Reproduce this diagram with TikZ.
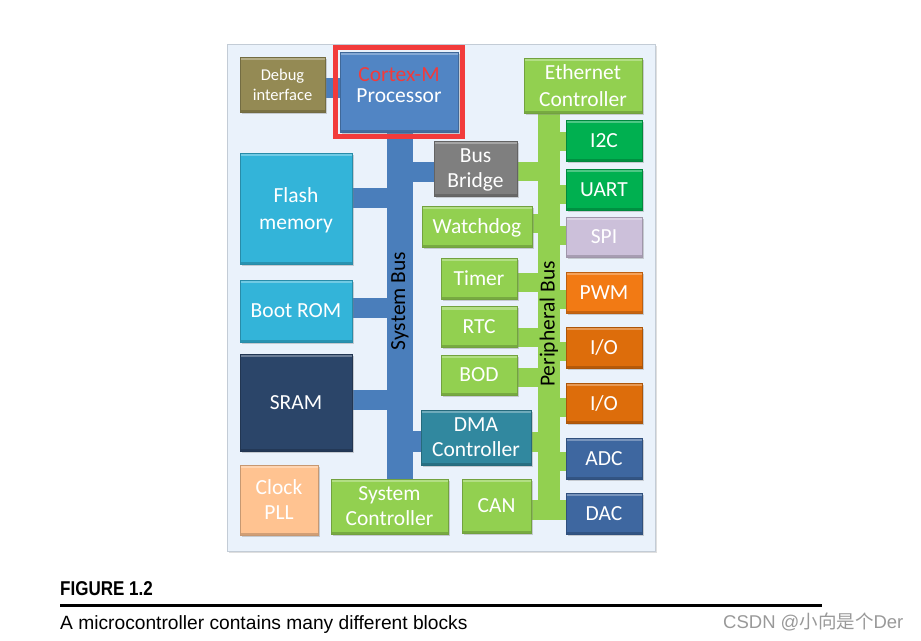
\documentclass[tikz,border=0pt]{standalone}
\usepackage{fontspec}
\usetikzlibrary{shadows,fit,backgrounds}

\newfontfamily\carlito{Carlito}
\newfontfamily\capsans{Liberation Sans}
\newfontface\figbold[FakeStretch=0.85]{Liberation Sans Bold}
\newfontfamily\cjk{Noto Sans CJK SC}
\newcommand\lblfont{\carlito\fontsize{21.5}{25}\selectfont}
\newcommand\tallfont{\carlito\fontsize{21.5}{26.5}\selectfont}
\newcommand\smlfont{\carlito\fontsize{16.5}{20}\selectfont}

\definecolor{cpanel}{HTML}{EAF2FB}
\definecolor{cpanelline}{HTML}{C3CCD6}
\definecolor{cdebug}{HTML}{948A54}
\definecolor{ccpu}{HTML}{5185C4}
\definecolor{csbus}{HTML}{4A7EBB}
\definecolor{cbridge}{HTML}{7F7F7F}
\definecolor{cflash}{HTML}{33B4D9}
\definecolor{csram}{HTML}{2B4569}
\definecolor{cdma}{HTML}{31889F}
\definecolor{clgreen}{HTML}{92D050}
\definecolor{cgreen}{HTML}{00B050}
\definecolor{cspi}{HTML}{CCC0DA}
\definecolor{cpwm}{HTML}{F27A14}
\definecolor{cio}{HTML}{DD6D0B}
\definecolor{cadc}{HTML}{3E67A0}
\definecolor{cclock}{HTML}{FFC391}
\definecolor{cortexred}{HTML}{F23B3B}

\begin{document}
\begin{tikzpicture}[x=1pt, y=-1pt,
    blk/.style={rectangle, fill=#1, draw=#1!78!black, line width=0.6pt,
        text=white, align=center, inner sep=0pt, font=\lblfont, text depth=0pt,
        drop shadow={shadow xshift=1.5pt, shadow yshift=-1.5pt, opacity=0.35},
        path picture={
            \fill[white, opacity=0.3] (path picture bounding box.north west)
                rectangle ([yshift=-3pt]path picture bounding box.north east);
            \fill[black, opacity=0.18] (path picture bounding box.south west)
                rectangle ([yshift=2.5pt]path picture bounding box.south east);
        }},
    sz/.style 2 args={minimum width=#1pt, minimum height=#2pt},
    sbar/.style={draw=csbus, line width=#1pt},
    sbar/.default=20,
    pbar/.style={draw=clgreen, line width=#1pt},
    pbar/.default=19,
    buslbl/.style={rotate=90, font=\lblfont, inner sep=0pt}
  ]
    \useasboundingbox (0,0) rectangle (921,640);

    % Board
    \begin{scope}[on background layer]
    \node [fill=cpanel, draw=cpanelline, line width=1pt, sz={428}{507},
           drop shadow={shadow xshift=1.5pt, shadow yshift=-1.5pt, opacity=0.25}]
                                        (panel)     at (441,297.5)  {};
    \end{scope}

    % Left column
    \node [blk=cdebug, sz={85}{55}, font=\smlfont] (debug) at (282.5,84.5) {Debug\\interface};
    \node [blk=cflash, sz={112}{111}, font=\tallfont] (flash) at (296,208.5) {Flash\\memory};
    \node [blk=cflash, sz={112}{62}]    (bootrom)   at (296,311)    {Boot ROM};
    \node [blk=csram, sz={112}{97}]     (sram)      at (296,402.5)  {SRAM};
    \node [blk=cclock, sz={78}{70}]     (clock)     at (279,500)    {Clock\\PLL};

    % Processor and system bus side
    \node [blk=ccpu, sz={118}{80}]      (cpu)       at (399,92)     {};
    \node [font=\carlito\fontsize{21.5}{21}\selectfont, text=white, align=center, inner sep=0pt]
                                        (cputext)   at (399,85.5)   {\textcolor{cortexred}{Cortex-M}\\Processor};
    \node [blk=cbridge, sz={83}{55}]    (bridge)    at (475.5,168.5) {Bus\\Bridge};
    \node [blk=cdma, sz={110}{55}]      (dma)       at (476,437.5)  {DMA\\Controller};
    \node [blk=clgreen, sz={117}{55}]   (sysctl)    at (389.5,506.5) {System\\Controller};
    \node [blk=clgreen, sz={69}{54}]    (can)       at (496.5,506)  {CAN};

    % Peripheral bus side
    \node [blk=clgreen, sz={118}{55}, font=\tallfont] (eth) at (583,85.5) {Ethernet\\Controller};
    \node [blk=clgreen, sz={110}{41}]   (watchdog)  at (477,226.5)  {Watchdog};
    \node [blk=clgreen, sz={76}{41}]    (timer)     at (479,278.5)  {Timer};
    \node [blk=clgreen, sz={76}{41}]    (rtc)       at (479,327)    {RTC};
    \node [blk=clgreen, sz={76}{40}]    (bod)       at (479,375)    {BOD};

    \node [blk=cgreen, sz={76}{41}]     (i2c)       at (604,140.5)  {I2C};
    \node [blk=cgreen, sz={76}{41}]     (uart)      at (604,189.5)  {UART};
    \node [blk=cspi, sz={76}{40}]       (spi)       at (604,237)    {SPI};
    \node [blk=cpwm, sz={76}{41}]       (pwm)       at (604,292.5)  {PWM};
    \node [blk=cio, sz={76}{41}]        (io1)       at (604,347.5)  {I/O};
    \node [blk=cio, sz={76}{40}]        (io2)       at (604,403)    {I/O};
    \node [blk=cadc, sz={76}{41}]       (adc)       at (604,458.5)  {ADC};
    \node [blk=cadc, sz={76}{41}]       (dac)       at (604,513.5)  {DAC};

    % Bus ends
    \coordinate (sbtop) at (400,132);
    \coordinate (sbbot) at (400,479);
    \coordinate (pbtop) at (549,112);
    \coordinate (pbbot) at (549,520);

    % Buses
    \begin{scope}[on background layer]
    \draw [sbar=26] (sbtop) -- (sbbot);
    \draw [sbar] ([yshift=-3.5pt]debug.east)  -- ++(16,0);
    \draw [sbar] ([yshift=10.5pt]flash.east)  -- ++(48,0);
    \draw [sbar] ([yshift=3pt]bootrom.east)   -- ++(48,0);
    \draw [sbar] ([yshift=2.5pt]sram.east)    -- ++(48,0);
    \draw [sbar] ([yshift=-3pt]bridge.west)   -- ++(-34,0);
    \draw [sbar=21] ([yshift=-3.5pt]dma.west) -- ++(-21,0);

    \draw [pbar=22] (pbtop) -- (pbbot);
    \draw [pbar] ([yshift=-0.5pt]i2c.west)    -- ++(-17,0);
    \draw [pbar] ([yshift=-4.5pt]uart.west)   -- ++(-17,0);
    \draw [pbar] ([yshift=2pt]spi.west)       -- ++(-17,0);
    \draw [pbar] ([yshift=-7pt]pwm.west)      -- ++(-17,0);
    \draw [pbar] ([yshift=-3.5pt]io1.west)    -- ++(-17,0);
    \draw [pbar] ([yshift=-4.5pt]io2.west)    -- ++(-17,0);
    \draw [pbar] ([yshift=-3pt]adc.west)      -- ++(-17,0);
    \draw [pbar] ([yshift=-3pt]bridge.east)   -- ++(32,0);
    \draw [pbar] ([yshift=3pt]watchdog.east)  -- ++(17,0);
    \draw [pbar] ([yshift=-3.5pt]timer.east)  -- ++(32,0);
    \draw [pbar] ([yshift=-10.5pt]rtc.east)   -- ++(32,0);
    \draw [pbar] ([yshift=-2.5pt]bod.east)    -- ++(32,0);
    \draw [pbar=20] ([yshift=-4pt]dma.east)   -- ++(18,0);
    \draw [pbar=20] ([yshift=-4pt]can.east)   -- ++(35,0);
    \end{scope}

    \node [buslbl]                      (sblabel)   at (400,301)    {System Bus};
    \node [buslbl]                      (pblabel)   at (549,324)    {Peripheral Bus};

    % Highlight
    \node [draw=cortexred, line width=5pt, fit=(cpu), inner sep=4pt] (frame) {};

    % Caption
    \coordinate (capl) at (60,605.5);
    \coordinate (capr) at (822,605.5);
    \node [anchor=base west, inner sep=0pt, font=\figbold\fontsize{20}{22}\selectfont]
                                        (fig)       at (60,595)     {FIGURE 1.2};
    \draw [line width=2.5pt] (capl) -- (capr);
    \node [anchor=base west, inner sep=0pt, font=\capsans\fontsize{19.2}{21}\selectfont]
                                        (caption)   at (60,629)     {A microcontroller contains many different blocks};
    \node [anchor=base west, inner sep=0pt, text=black!40, font=\capsans\fontsize{18.5}{20}\selectfont]
                                        (mark)      at (723,628)    {CSDN @{\cjk 小向是个}Der};
\end{tikzpicture}
\end{document}
